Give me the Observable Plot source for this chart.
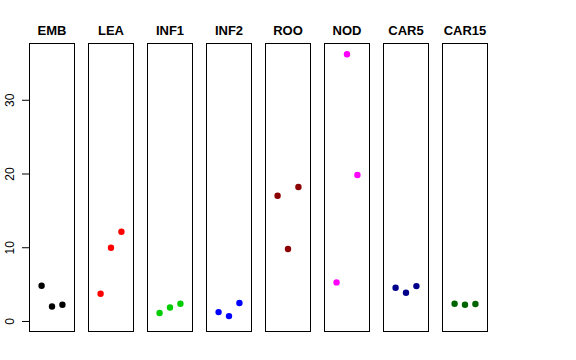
<!DOCTYPE html>
<html>
<head>
<meta charset="utf-8">
<script src="https://cdn.jsdelivr.net/npm/d3@7"></script>
<script src="https://cdn.jsdelivr.net/npm/@observablehq/plot@0.6"></script>
<style>
  body { margin: 0; background: #fff; }
</style>
</head>
<body>
<div id="chart"></div>
<script>
const tissues = ["EMB", "LEA", "INF1", "INF2", "ROO", "NOD", "CAR5", "CAR15"];
const colors  = ["#000000", "#FF0000", "#00CD00", "#0000FF", "#8B0000", "#FF00FF", "#00008B", "#006400"];
const rep1 = [4.84, 3.76, 1.14, 1.27, 17.06, 5.3, 4.57, 2.4];
const rep2 = [2.04, 10.0, 1.9, 0.73, 9.82, 36.25, 3.9, 2.27];
const rep3 = [2.27, 12.17, 2.4, 2.5, 18.24, 19.87, 4.8, 2.36];
const yTicks = [0, 10, 20, 30];

const rows = [];
tissues.forEach((t, i) => {
  [rep1, rep2, rep3].forEach((rep, j) => {
    rows.push({tissue: t, rep: j + 1, value: rep[i], color: colors[i]});
  });
});

const chart = Plot.plot({
  width: 576,
  height: 360,
  marginLeft: 29,
  marginRight: 89,
  marginTop: 43,
  marginBottom: 29,
  style: {fontFamily: "'Liberation Sans', Arial, Helvetica, sans-serif", fontSize: "12px", background: "#fff"},
  fx: {domain: tissues, paddingInner: 0.238, paddingOuter: 0, axis: null},
  x: {domain: [-0.16, 4.16], axis: null},
  y: {domain: [-1.36, 37.7], axis: null},
  marks: [
    Plot.frame({stroke: "#000", strokeWidth: 1}),
    Plot.axisFx({anchor: "top", tickSize: 0, tickPadding: 9, fontWeight: "bold", fontSize: 13, label: null}),
    Plot.axisY({ticks: yTicks, tickSize: 7, tickRotate: -90, tickPadding: 9, label: null, fontSize: 12, stroke: "#000"}),
    Plot.dot(rows, {fx: "tissue", x: "rep", y: "value", r: 3.2, fill: "color", stroke: null})
  ]
});
document.getElementById("chart").appendChild(chart);
</script>
</body>
</html>
